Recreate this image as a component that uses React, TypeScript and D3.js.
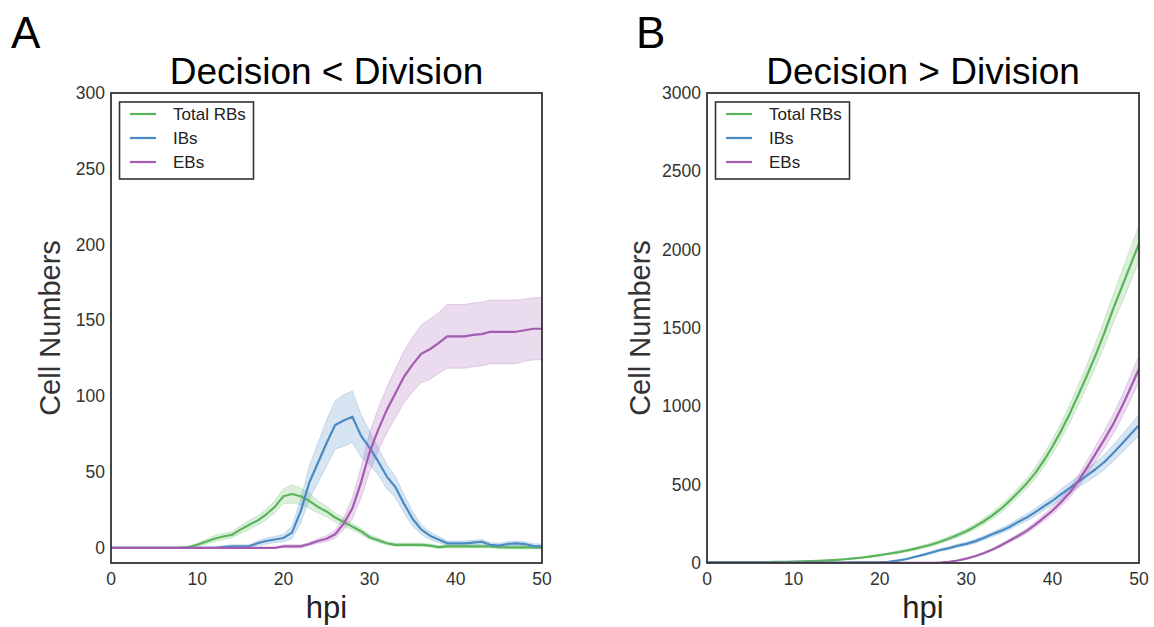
import React from "react";
import * as d3 from "d3";

const HOURS = d3.range(0, 51);

// Panel A: Decision < Division
const A_TOTAL = [0,0,0,0,0,0,0,0,0,0.5,2,4,6,7.5,8.5,12,15,18,22,27,34,35.5,34,31,27,24,20,17,14,11,7,5,3,2,2,2,2,1.5,0.5,1,1,1,1,1,1,0.5,0.3,0.3,0.3,0.3,0.3];
const A_TOTAL_CI = [0,0,0,0,0,0,0,0,0,0.5,1,1.5,2,2,2,2.5,3,3,3.5,4,5,6,5.5,5,4,3.5,3,2.5,2,2,1.5,1.5,1,1,1,1,1,1,1,1,1,1,1,1,1,1,1,1,1,1,1];
const A_IB = [0,0,0,0,0,0,0,0,0,0,0,0,0,0.5,1,1,1,3,4.5,5.5,6.5,10,24,43,56,69,81,84,86.5,74,66,57,47,40,29,19,12,8,5.5,3,3,3,3.5,4,2,1.5,2.5,3,2.5,1.2,1];
const A_IB_CI = [0,0,0,0,0,0,0,0,0,0,0,0,0,1,1,1,1,1.5,2,2,2.5,4,8,11,13,15,16,17,17,14,11,9,8,7,6,5,3,2.5,2,1.5,1.5,1.5,1.5,1.5,1.5,1.5,1.5,1.5,1.5,1.5,1.5];
const A_EB = [0,0,0,0,0,0,0,0,0,0,0,0,0,0,0,0,0,0,0,0,1,1,1,2.5,4.5,6,9,16,26,43,63,78,91,102,113,121,128,131,135,139.5,139.5,139.5,140.5,141,142.5,142.5,142.5,142.5,143.5,144.5,144.5];
const A_EB_CI = [0,0,0,0,0,0,0,0,0,0,0,0,0,0,0,0,0,0,0,0,1,1,1,1,1.5,2,2.5,4,7,10,13,14,15,16,17,18,19,20,20,21,21,21,21,21,21,21,21,21,20.5,20.5,20.5];

// Panel B: Decision > Division
const B_TOTAL = [5,5,5,5,5,5,6,6,7,8,9,10,12,14,17,20,24,29,35,42,50,59,68,78,90,104,118,136,156,178,203,232,265,302,345,395,450,508,575,655,745,845,955,1075,1200,1330,1470,1620,1760,1900,2040];
const B_TOTAL_CI = [1,1,1,1,1,1,1,1,1,1,1,2,2,2,3,3,3,4,4,5,5,6,7,8,9,10,11,12,13,14,15,17,19,21,24,27,30,33,37,41,46,52,58,64,70,77,84,92,100,108,115];
const B_IB = [2,2,2,2,2,2,2,2,2,3,3,3,3,3,3,3,3,4,4,4,5,8,15,24,38,52,67,83,95,110,122,138,160,183,205,230,262,290,325,362,398,440,480,520,560,600,645,700,760,820,880];
const B_IB_CI = [1,1,1,1,1,1,1,1,1,1,1,1,1,1,1,1,1,1,1,1,1,2,3,4,5,6,7,8,9,10,11,12,13,14,16,18,20,22,24,26,28,31,34,37,40,44,48,52,56,62,68];
const B_EB = [1,1,1,1,1,1,1,1,1,1,1,1,1,1,1,1,1,1,1,1,1,1,1,1,1,1,1,3,8,16,28,43,62,85,112,142,172,205,245,290,335,390,450,525,610,700,790,885,995,1115,1240];
const B_EB_CI = [1,1,1,1,1,1,1,1,1,1,1,1,1,1,1,1,1,1,1,1,1,1,1,1,1,1,1,1,2,3,4,5,6,7,9,11,13,15,18,21,24,28,32,37,43,49,56,63,70,77,85];

const X_TICKS = [0, 10, 20, 30, 40, 50];
const A_Y_TICKS = [0, 50, 100, 150, 200, 250, 300];
const B_Y_TICKS = [0, 500, 1000, 1500, 2000, 2500, 3000];
const LEGEND_LABELS = ["Total RBs", "IBs", "EBs"];
const COLORS = ["#5ab55a", "#4a8ac4", "#a35cb2"];

const FONT = "'Liberation Sans', Arial, Helvetica, sans-serif";

type PanelProps = {
  letter: string;
  title: string;
  left: number;
  right: number;
  yDomain: [number, number];
  yTicks: number[];
  series: { values: number[]; ci: number[] }[];
  letterX: number;
  ylabelX: number;
};

function Panel(p: PanelProps) {
  const top = 93;
  const bottom = 563;
  const x = d3.scaleLinear().domain([0, 50]).range([p.left, p.right]);
  const y = d3.scaleLinear().domain(p.yDomain).range([bottom, top]);
  const clipId = "clip-" + p.letter;
  const cx = (p.left + p.right) / 2;
  return (
    <g>
      <defs>
        <clipPath id={clipId}>
          <rect x={p.left} y={top} width={p.right - p.left} height={bottom - top} />
        </clipPath>
      </defs>
      <text x={p.letterX} y={48} fontSize={44} fontFamily={FONT} fill="#000">{p.letter}</text>
      <text x={cx} y={84} fontSize={37} fontFamily={FONT} textAnchor="middle" fill="#000">{p.title}</text>
      <g clipPath={`url(#${clipId})`}>
        {p.series.map((s, i) => {
          const area = d3
            .area<number>()
            .x((h) => x(h))
            .y0((h, j) => y(s.values[j] - s.ci[j]))
            .y1((h, j) => y(s.values[j] + s.ci[j]));
          return <path key={"a" + i} d={area(HOURS) || ""} fill={COLORS[i]} fillOpacity={0.22} stroke={COLORS[i]} strokeOpacity={0.25} strokeWidth={1} />;
        })}
        {p.series.map((s, i) => {
          const line = d3
            .line<number>()
            .x((h) => x(h))
            .y((h, j) => y(s.values[j]));
          return <path key={"l" + i} d={line(HOURS) || ""} fill="none" stroke={COLORS[i]} strokeWidth={2.2} strokeLinejoin="round" />;
        })}
      </g>
      <rect x={p.left} y={top} width={p.right - p.left} height={bottom - top} fill="none" stroke="#333" strokeWidth={1.8} />
      {X_TICKS.map((t) => (
        <text key={"x" + t} x={x(t)} y={585} fontSize={17.5} fontFamily={FONT} textAnchor="middle" fill="#333">{t}</text>
      ))}
      {p.yTicks.map((t) => (
        <text key={"y" + t} x={p.left - 6} y={y(t) + 6} fontSize={17.5} fontFamily={FONT} textAnchor="end" fill="#333">{t}</text>
      ))}
      <text x={cx} y={618} fontSize={31} fontFamily={FONT} textAnchor="middle" fill="#222">hpi</text>
      <text transform={`translate(${p.ylabelX},${(top + bottom) / 2}) rotate(-90)`} fontSize={29} fontFamily={FONT} textAnchor="middle" fill="#333">Cell Numbers</text>
      <g>
        <rect x={p.left + 8.5} y={102} width={134} height={77} fill="#fff" stroke="#333" strokeWidth={1.6} />
        {LEGEND_LABELS.map((lab, i) => (
          <g key={lab}>
            <line x1={p.left + 19} x2={p.left + 45} y1={114 + i * 24} y2={114 + i * 24} stroke={COLORS[i]} strokeWidth={2.2} />
            <text x={p.left + 62} y={120 + i * 24} fontSize={17} fontFamily={FONT} fill="#222">{lab}</text>
          </g>
        ))}
      </g>
    </g>
  );
}

export default function App() {
  return (
    <svg width={1154} height={627} style={{ position: "absolute", left: 0, top: 0, background: "#fff" }}>
      <rect x={0} y={0} width={1154} height={627} fill="#fff" />
      <Panel
        letter="A"
        title="Decision < Division"
        left={111}
        right={542}
        yDomain={[-10, 300]}
        yTicks={A_Y_TICKS}
        letterX={11}
        ylabelX={60}
        series={[
          { values: A_TOTAL, ci: A_TOTAL_CI },
          { values: A_IB, ci: A_IB_CI },
          { values: A_EB, ci: A_EB_CI },
        ]}
      />
      <Panel
        letter="B"
        title="Decision > Division"
        left={707}
        right={1139}
        yDomain={[0, 3000]}
        yTicks={B_Y_TICKS}
        letterX={636}
        ylabelX={650}
        series={[
          { values: B_TOTAL, ci: B_TOTAL_CI },
          { values: B_IB, ci: B_IB_CI },
          { values: B_EB, ci: B_EB_CI },
        ]}
      />
    </svg>
  );
}
